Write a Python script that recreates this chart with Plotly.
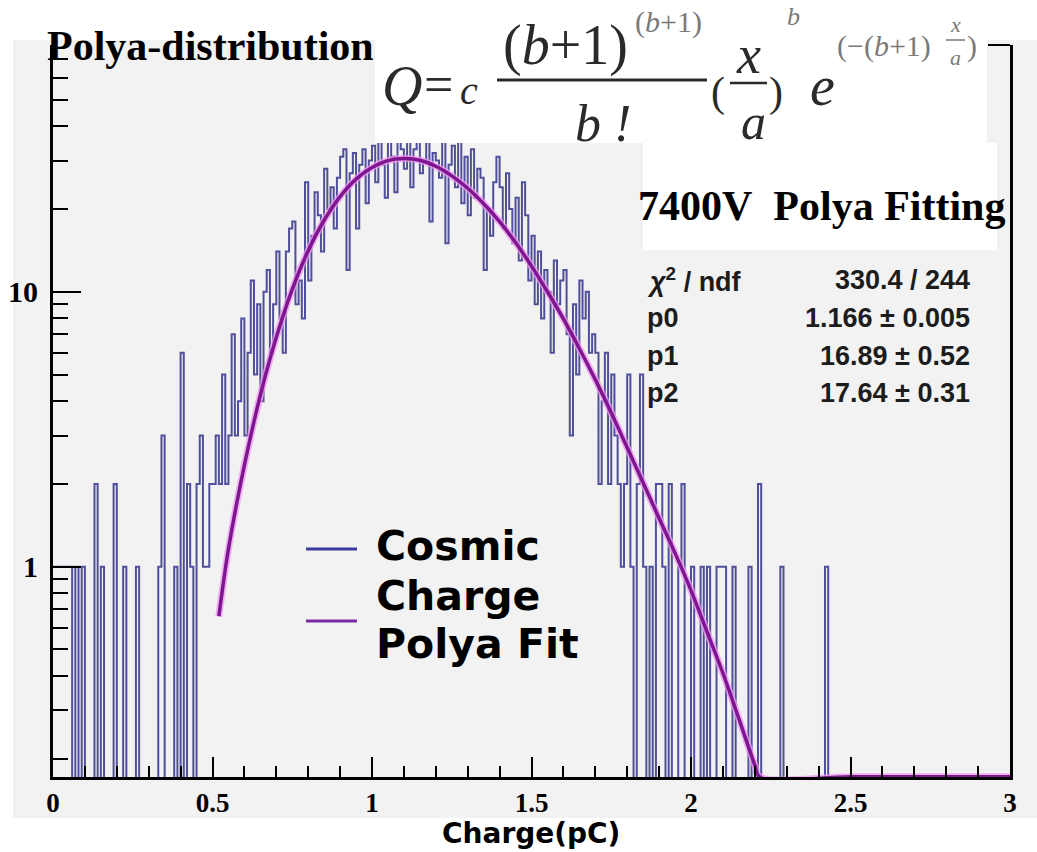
import plotly.graph_objects as go

# ------------------------------------------------------------------ data
bin_width = 0.01          # histogram bin width (pC)
x_start = 0.0

counts = [
    1, 1, 1, 1, 1, 1, 0, 1, 0, 1,          # 0.00
    0, 0, 0, 2, 0, 1, 0, 0, 0, 2,          # 0.10
    0, 0, 1, 0, 0, 0, 1, 0, 0, 0,          # 0.20
    0, 0, 0, 1, 3, 0, 0, 0, 1, 0,          # 0.30
    6, 0, 2, 1, 0, 2, 3, 1, 1, 2,          # 0.40
    2, 3, 2, 5, 2, 3, 7, 3, 4, 8,          # 0.50
    3, 6, 11, 5, 9, 4, 10, 12, 6, 9,       # 0.60
    14, 8, 6, 14, 17, 18, 9, 11, 8, 25,    # 0.70
    11, 16, 23, 19, 14, 28, 20, 24, 17, 26,  # 0.80
    31, 33, 12, 27, 32, 17, 29, 33, 21, 30,  # 0.90
    34, 25, 37, 29, 22, 40, 31, 23, 36, 33,  # 1.00
    28, 38, 24, 33, 41, 27, 30, 35, 18, 32,  # 1.10
    30, 26, 37, 15, 29, 34, 24, 36, 21, 31,  # 1.20
    19, 33, 22, 28, 26, 12, 20, 16, 25, 31,  # 1.30
    24, 17, 27, 20, 15, 22, 13, 25, 19, 11,  # 1.40
    16, 9, 14, 8, 12, 10, 6, 13, 9, 11,      # 1.50
    12, 7, 3, 9, 5, 11, 8, 10, 6, 7,         # 1.60
    6, 2, 4, 6, 2, 5, 3, 2, 1, 2,            # 1.70
    5, 1, 0, 2, 5, 1, 0, 1, 0, 2,            # 1.80
    2, 1, 0, 2, 0, 0, 1, 2, 0, 0,            # 1.90
    1, 0, 0, 1, 0, 1, 0, 0, 1, 1,            # 2.00
    1, 0, 0, 1, 0, 0, 0, 0, 1, 0,            # 2.10
    0, 2, 0, 0, 0, 0, 0, 0, 1, 0,            # 2.20
    0, 0, 0, 0, 0, 0, 0, 0, 0, 0,            # 2.30
    0, 0, 1, 0, 0, 0, 0, 0, 0, 0,            # 2.40
    0, 0, 0, 0, 0, 0, 0, 0, 0, 0,            # 2.50
    0, 0, 0, 0, 0, 0, 0, 0, 0, 0,            # 2.60
    0, 0, 0, 0, 0, 0, 0, 0, 0, 0,            # 2.70
    0, 0, 0, 0, 0, 0, 0, 0, 0, 0,            # 2.80
    0, 0, 0, 0, 0, 0, 0, 0, 0, 0,            # 2.90
]

fit_x = [0.52, 0.55, 0.60, 0.65, 0.70, 0.75, 0.80, 0.85, 0.90, 0.95,
         1.00, 1.05, 1.10, 1.15, 1.20, 1.25, 1.30, 1.35, 1.40, 1.45,
         1.50, 1.55, 1.60, 1.65, 1.70, 1.75, 1.80, 1.85, 1.90, 1.95,
         2.00, 2.05, 2.10, 2.15, 2.20, 2.215, 2.50, 2.75, 3.00]
fit_y = [0.66, 1.16, 2.34, 4.21, 6.83, 10.2, 14.1, 18.2, 22.2, 25.7,
         28.3, 30.0, 30.5, 30.1, 28.6, 26.4, 23.8, 20.9, 18.0, 15.1,
         12.4, 10.0, 7.97, 6.22, 4.79, 3.63, 2.71, 2.02, 1.50, 1.12,
         0.82, 0.58, 0.41, 0.28, 0.19, 0.172, 0.172, 0.172, 0.172]

x_ticks = [0, 0.5, 1, 1.5, 2, 2.5, 3]
x_ticktext = ["0", "0.5", "1", "1.5", "2", "2.5", "3"]
y_ticks = [1, 10]
y_ticktext = ["1", "10"]
y_minor = [0.2, 0.3, 0.4, 0.5, 0.6, 0.7, 0.8, 0.9,
           2, 3, 4, 5, 6, 7, 8, 9, 20, 30, 40, 50, 60, 70]

stat_labels = ["<i>\u03c7</i><sup>2</sup> / ndf", "p0", "p1", "p2"]
stat_values = ["330.4 / 244", "1.166 \u00b1 0.005", "16.89 \u00b1 0.52", "17.64 \u00b1 0.31"]

legend_names = ["Cosmic Charge", "Polya Fit"]

# ------------------------------------------------------------------ geometry
W, H = 1037, 852
L, R, T, B = 53, 27, 45, 75
PW, PH = W - L - R, H - T - B
FLOOR = 0.01  # empty bins drawn below the axis floor (like ROOT log plots)


def fx(px):
    return (px - L) / PW


def fy(py):
    return (H - B - py) / PH


SERIF = "Liberation Serif"
SANS = "DejaVu Sans"
HELV = "Liberation Sans"

# ------------------------------------------------------------------ traces
edges = [x_start + i * bin_width for i in range(len(counts) + 1)]
hist_y = [c if c > 0 else FLOOR for c in counts]
hist_y = hist_y + [hist_y[-1]]

fig = go.Figure()
fig.add_trace(go.Scatter(
    x=edges, y=hist_y, mode="lines", line_shape="hv",
    line=dict(color="#50509a", width=2), name=legend_names[0], showlegend=False))
# soft pink halo under the fit line
fig.add_trace(go.Scatter(
    x=fit_x, y=fit_y, mode="lines", line_shape="spline", hoverinfo="skip",
    line=dict(color="rgba(240,150,240,0.75)", width=7), showlegend=False))
fig.add_trace(go.Scatter(
    x=fit_x, y=fit_y, mode="lines", line_shape="spline",
    line=dict(color="#7d168f", width=3.5), name=legend_names[1], showlegend=False))

# ------------------------------------------------------------------ shapes
shapes = []
# ROOT canvas grey
shapes.append(dict(type="rect", xref="paper", yref="paper", layer="below",
                   x0=fx(13), x1=fx(1037), y0=fy(818), y1=fy(40),
                   fillcolor="#f2f2f2", line=dict(width=0)))
# white formula image and title box covering the top of the plot
shapes.append(dict(type="rect", xref="paper", yref="paper", layer="above",
                   x0=fx(375), x1=fx(987), y0=fy(143), y1=fy(0),
                   fillcolor="white", line=dict(width=0)))
shapes.append(dict(type="rect", xref="paper", yref="paper", layer="above",
                   x0=fx(643), x1=fx(997), y0=fy(250), y1=fy(143),
                   fillcolor="white", line=dict(width=0)))
# short top frame segment
shapes.append(dict(type="line", xref="paper", yref="paper", layer="above",
                   x0=fx(988), x1=fx(1010), y0=1, y1=1,
                   line=dict(color="black", width=2)))
# fraction bars of the formula
for (a, b, yy, w) in [(497, 707, 80, 3), (730, 767, 83, 2.5), (946, 965, 40, 1.5)]:
    shapes.append(dict(type="line", xref="paper", yref="paper", layer="above",
                       x0=fx(a), x1=fx(b), y0=fy(yy), y1=fy(yy),
                       line=dict(color="#2a2a2a" if w > 2 else "#777", width=w)))
# legend samples
shapes.append(dict(type="line", xref="paper", yref="paper", layer="above",
                   x0=fx(306), x1=fx(357), y0=fy(549), y1=fy(549),
                   line=dict(color="#3a3aa0", width=3)))
shapes.append(dict(type="line", xref="paper", yref="paper", layer="above",
                   x0=fx(306), x1=fx(357), y0=fy(621), y1=fy(621),
                   line=dict(color="#7a2aa8", width=3)))

# ------------------------------------------------------------------ annotations
ann = []


def txt(px, py, text, size, family=SERIF, color="black", xanchor="center",
        weight="normal"):
    ann.append(dict(x=fx(px), y=fy(py), xref="paper", yref="paper", text=text,
                    showarrow=False, xanchor=xanchor, yanchor="middle",
                    font=dict(family=family, size=size, color=color, weight=weight)))


txt(45, 46, "Polya-distribution", 42, SERIF, "black", "left", "bold")
txt(636, 206, "7400V\u00a0\u00a0Polya Fitting", 42, SERIF, "black", "left", "bold")

# formula  Q = c (b+1)^(b+1)/b! (x/a)^b e^(-(b+1)x/a)
FC, FL = "#2a2a2a", "#7a7a7a"
txt(402, 86, "<i>Q</i>", 56, SERIF, FC)
txt(438, 84, "=", 52, SERIF, FC)
txt(469, 90, "<i>c</i>", 40, SERIF, FC)
txt(565, 45, "(<i>b</i>+1)", 56, SERIF, FC)
txt(668, 22, "(<i>b</i>+1)", 30, SERIF, FL)
txt(603, 123, "<i>b !</i>", 52, SERIF, FC)
txt(718, 93, "(", 42, SERIF, FC)
txt(748, 55, "<i>x</i>", 54, SERIF, FC)
txt(753, 122, "<i>a</i>", 50, SERIF, FC)
txt(776, 93, ")", 42, SERIF, FC)
txt(793, 17, "<i>b</i>", 26, SERIF, FL)
txt(822, 86, "<i>e</i>", 56, SERIF, FC)
txt(884, 46, "(\u2212(<i>b</i>+1)", 30, SERIF, FL)
txt(955, 25, "<i>x</i>", 22, SERIF, FL)
txt(955, 58, "<i>a</i>", 22, SERIF, FL)
txt(972, 46, ")", 30, SERIF, FL)

# fit statistics box
for lab, val, py in zip(stat_labels, stat_values, [280, 318, 356, 393]):
    txt(645, py, lab, 27, HELV, "#1c1c1c", "left", "bold")
    txt(972, py, val, 27, HELV, "#1c1c1c", "right", "bold")

# legend text
txt(374, 546, "Cosmic", 41, SANS, "black", "left", "bold")
txt(374, 596, "Charge", 41, SANS, "black", "left", "bold")
txt(374, 644, "Polya Fit", 41, SANS, "black", "left", "bold")

# x-axis title (placed explicitly so the plot area keeps its size)
txt(531, 834, "Charge(pC)", 28, SANS, "black", "center", "bold")

# ------------------------------------------------------------------ layout
fig.update_layout(
    width=W, height=H, autosize=False,
    margin=dict(l=L, r=R, t=T, b=B, pad=0, autoexpand=False),
    paper_bgcolor="white", plot_bgcolor="#f2f2f2",
    showlegend=False,
    shapes=shapes, annotations=ann,
    xaxis=dict(
        range=[0, 3], tickmode="array", tickvals=x_ticks, ticktext=x_ticktext,
        ticks="inside", ticklen=20, tickwidth=2, tickcolor="black",
        minor=dict(tickmode="linear", tick0=0, dtick=0.1, ticks="inside",
                   ticklen=11, tickwidth=2, tickcolor="black"),
        showline=True, linecolor="black", linewidth=3, mirror=False,
        showgrid=False, zeroline=False, automargin=False,
        tickfont=dict(family=SERIF, size=27, color="black", weight="bold"),
    ),
    yaxis=dict(
        type="log", range=[-0.765, 1.8976],
        tickmode="array", tickvals=y_ticks, ticktext=y_ticktext,
        ticks="inside", ticklen=28, tickwidth=2, tickcolor="black",
        minor=dict(tickmode="array", tickvals=y_minor, ticks="inside",
                   ticklen=15, tickwidth=2, tickcolor="black"),
        showline=True, linecolor="black", linewidth=3, mirror=True,
        showgrid=False, zeroline=False, automargin=False,
        tickfont=dict(family=SERIF, size=30, color="black", weight="bold"),
        ticklabelstandoff=6,
    ),
)

fig.write_html("out.html")
